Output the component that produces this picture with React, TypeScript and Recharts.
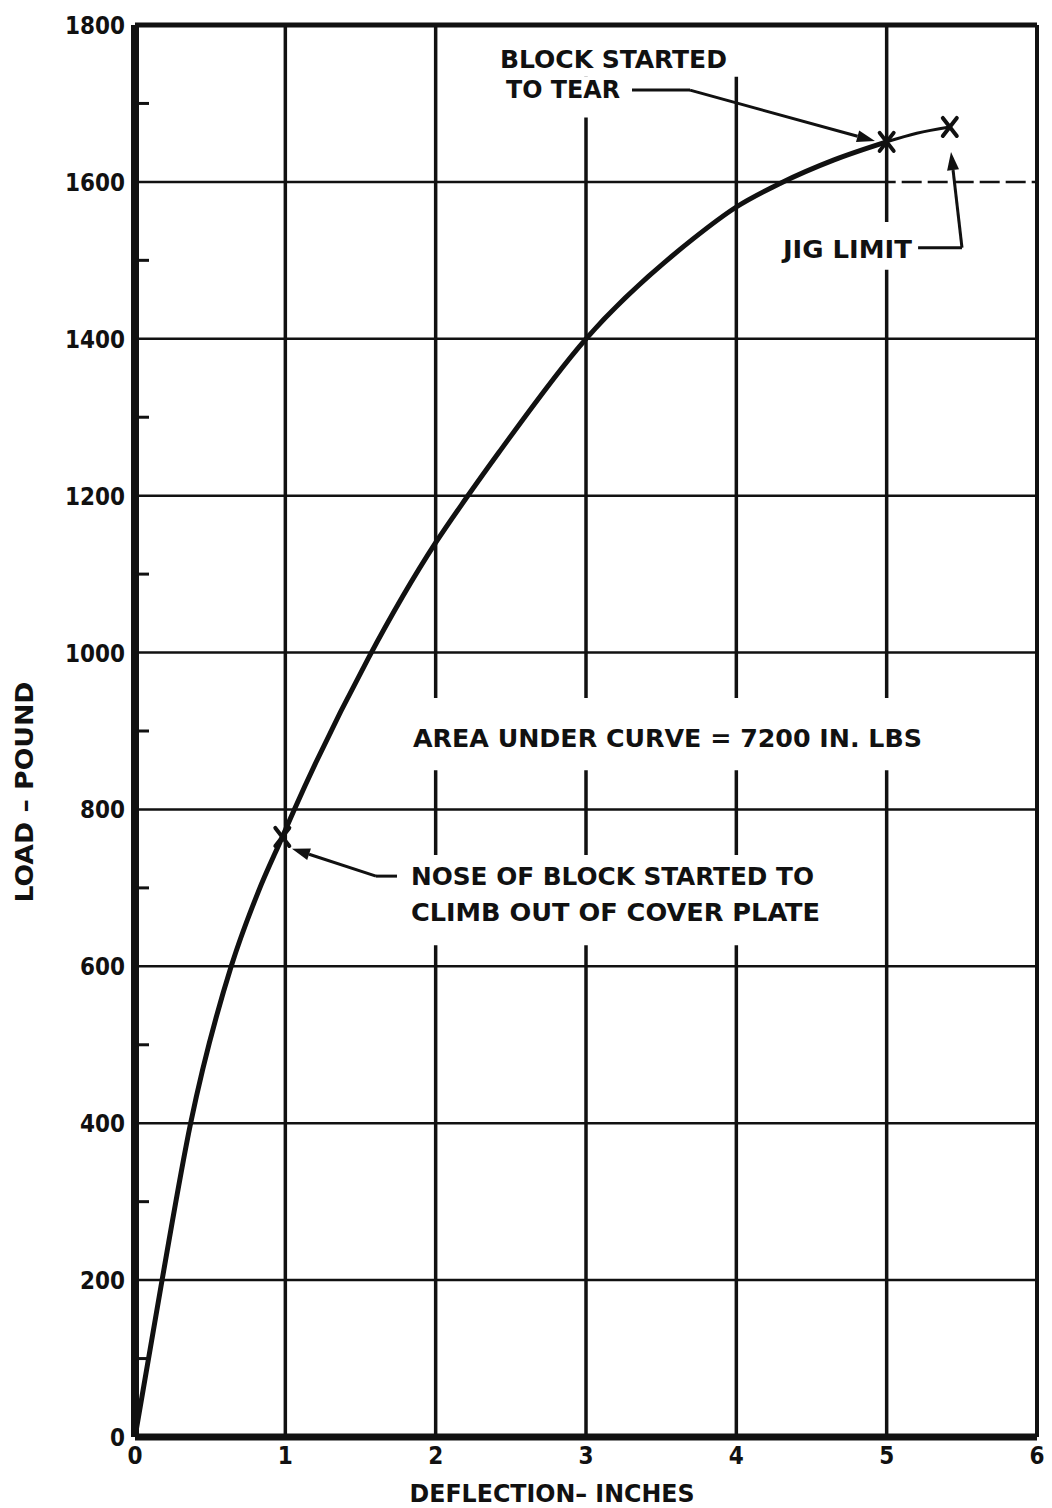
import {
  ComposedChart,
  Line,
  Scatter,
  XAxis,
  YAxis,
  CartesianGrid,
  ReferenceLine,
  ReferenceArea,
  ReferenceDot,
} from "recharts";

// load-deflection curve (inches, pounds)
const loadCurve = [
  { x: 0, y: 0 },
  { x: 0.18, y: 200 },
  { x: 0.37, y: 400 },
  { x: 0.64, y: 600 },
  { x: 0.82, y: 695 },
  { x: 0.98, y: 765 },
  { x: 1.06, y: 800 },
  { x: 1.55, y: 992 },
  { x: 2.0, y: 1140 },
  { x: 2.2, y: 1196 },
  { x: 2.42, y: 1255 },
  { x: 3.0, y: 1400 },
  { x: 3.71, y: 1527 },
  { x: 4.0, y: 1568 },
  { x: 4.29, y: 1598 },
  { x: 4.65, y: 1628 },
  { x: 5.0, y: 1651 },
];

// short piece between tearing and the jig limit (drawn thinner)
const jigTail = [
  { x: 5.0, y: 1651 },
  { x: 5.2, y: 1662 },
  { x: 5.42, y: 1670 },
];

// the three "X" marks: nose climbs out, block tears, jig limit
const events = [
  { x: 0.98, y: 765 },
  { x: 5.0, y: 1651 },
  { x: 5.42, y: 1670 },
];

const xTicks = [0, 1, 2, 3, 4, 5, 6];
const yTicks = [0, 100, 200, 300, 400, 500, 600, 700, 800, 900, 1000, 1100, 1200, 1300, 1400, 1500, 1600, 1700, 1800];
const gridX = [1, 2, 3, 4, 5];
const gridY = [200, 400, 600, 800, 1000, 1200, 1400, 1600];

// notes: start x, baseline y (data units), printed width in px
const notes = [
  { text: "BLOCK STARTED", x: 2.428, y: 1745, w: 227, size: 24 },
  { text: "TO TEAR", x: 2.468, y: 1707, w: 114, size: 24 },
  { text: "JIG LIMIT", x: 4.31, y: 1503, w: 129, size: 24 },
  { text: "AREA UNDER CURVE = 7200 IN. LBS", x: 1.849, y: 880, w: 509, size: 24 },
  { text: "NOSE  OF BLOCK STARTED TO", x: 1.836, y: 704, w: 403, size: 25 },
  { text: "CLIMB OUT OF COVER PLATE", x: 1.836, y: 658, w: 409, size: 25 },
];

// white patches where the draftsman broke the grid for lettering
const blanks = [
  { x1: 1.796, x2: 5.3, y1: 850, y2: 942 },
  { x1: 1.763, x2: 4.62, y1: 627, y2: 742 },
  { x1: 4.257, x2: 5.195, y1: 1488, y2: 1549 },
  { x1: 2.375, x2: 4.04, y1: 1734, y2: 1800 },
  { x1: 2.375, x2: 3.09, y1: 1682, y2: 1734 },
];

// leader lines, [from, to, arrowhead]
const leaders: [number[], number[], boolean][] = [
  [[3.306, 1717], [3.692, 1717], false],
  [[3.692, 1717], [4.922, 1652], true],
  [[5.209, 1516], [5.501, 1516], false],
  [[5.501, 1516], [5.428, 1638], true],
  [[1.743, 715], [1.603, 715], false],
  [[1.603, 715], [1.044, 750], true],
];

const INK = "#111";
const FONT = "'DejaVu Sans Condensed', 'DejaVu Sans', sans-serif";

function LoadTick({ x, y, payload }: any) {
  const v = payload.value;
  if (v % 200 !== 0) {
    return <line x1={x + 10} x2={x + 24} y1={y} y2={y} stroke={INK} strokeWidth={3} />;
  }
  const s = String(v);
  return (
    <text
      x={x}
      y={y + 9}
      textAnchor="end"
      fontFamily={FONT}
      fontWeight="bold"
      fontSize={25}
      fill={INK}
      textLength={s.length * 15}
      lengthAdjust="spacingAndGlyphs"
    >
      {s}
    </text>
  );
}

function DeflTick({ x, y, payload }: any) {
  return (
    <text x={x} y={y + 27} textAnchor="middle" fontFamily={FONT} fontWeight="bold" fontSize={24} fill={INK}>
      {payload.value}
    </text>
  );
}

function Cross({ cx, cy }: any) {
  const s = 7;
  return (
    <g stroke={INK} strokeWidth={4} strokeLinecap="round">
      <line x1={cx - s} y1={cy - s - 2} x2={cx + s} y2={cy + s + 2} />
      <line x1={cx + s} y1={cy - s - 2} x2={cx - s} y2={cy + s + 2} />
    </g>
  );
}

function Leader({ x1, y1, x2, y2, arrow }: any) {
  const dx = x2 - x1;
  const dy = y2 - y1;
  const len = Math.hypot(dx, dy) || 1;
  const ux = dx / len;
  const uy = dy / len;
  const hl = 18;
  const hw = 6;
  const bx = x2 - ux * hl;
  const by = y2 - uy * hl;
  return (
    <g>
      <line x1={x1} y1={y1} x2={arrow ? bx : x2} y2={arrow ? by : y2} stroke={INK} strokeWidth={3} />
      {arrow && (
        <polygon
          points={`${x2},${y2} ${bx - uy * hw},${by + ux * hw} ${bx + uy * hw},${by - ux * hw}`}
          fill={INK}
        />
      )}
    </g>
  );
}

export default function App() {
  return (
    <div style={{ background: "#fff", width: 1052, height: 1508 }}>
      <style>{"body{margin:0;background:#fff}"}</style>
      <ComposedChart width={1052} height={1508} margin={{ top: 25, right: 15, bottom: 0, left: 0 }}>
        <CartesianGrid horizontal vertical={false} horizontalValues={gridY} stroke={INK} strokeWidth={2.5} />
        <CartesianGrid horizontal={false} vertical verticalValues={gridX} stroke={INK} strokeWidth={3.5} />
        {blanks.map((b, i) => (
          <ReferenceArea key={"b" + i} x1={b.x1} x2={b.x2} y1={b.y1} y2={b.y2} fill="#fff" fillOpacity={1} stroke="none" />
        ))}
        {/* the 1600 rule is broken up past the 5-inch line */}
        <ReferenceLine
          segment={[
            { x: 5.06, y: 1600 },
            { x: 5.98, y: 1600 },
          ]}
          stroke="#fff"
          strokeWidth={4}
          strokeDasharray="6 20"
        />
        <XAxis
          dataKey="x"
          type="number"
          domain={[0, 6]}
          ticks={xTicks}
          interval={0}
          height={71}
          tickSize={0}
          tickMargin={0}
          tick={<DeflTick />}
          axisLine={{ stroke: INK, strokeWidth: 7 }}
          label={{
            content: ({ viewBox }: any) => (
              <text
                x={viewBox.x + viewBox.width / 2 - 34}
                y={viewBox.y + 65}
                textAnchor="middle"
                fontFamily={FONT}
                fontWeight="bold"
                fontSize={25}
                fill={INK}
                textLength={285}
                lengthAdjust="spacingAndGlyphs"
              >
                DEFLECTION– INCHES
              </text>
            ),
          }}
        />
        <YAxis
          dataKey="y"
          type="number"
          domain={[0, 1800]}
          ticks={yTicks}
          interval={0}
          width={135}
          tickSize={0}
          tickMargin={10}
          tick={<LoadTick />}
          axisLine={{ stroke: INK, strokeWidth: 8 }}
          label={{
            content: ({ viewBox }: any) => {
              const cx = viewBox.x + 25;
              const cy = viewBox.y + viewBox.height / 2 + 61;
              return (
                <text
                  x={cx}
                  y={cy}
                  transform={`rotate(-90 ${cx} ${cy})`}
                  textAnchor="middle"
                  dominantBaseline="central"
                  fontFamily={FONT}
                  fontWeight="bold"
                  fontSize={24}
                  fill={INK}
                  textLength={221}
                  lengthAdjust="spacingAndGlyphs"
                >
                  LOAD – POUND
                </text>
              );
            },
          }}
        />
        <ReferenceLine y={1800} stroke={INK} strokeWidth={5} />
        <ReferenceLine x={6} stroke={INK} strokeWidth={4} />
        {leaders.map(([a, b, head], i) => (
          <ReferenceLine
            key={"l" + i}
            segment={[
              { x: a[0], y: a[1] },
              { x: b[0], y: b[1] },
            ]}
            shape={(p: any) => <Leader {...p} arrow={head} />}
          />
        ))}
        {notes.map((n, i) => (
          <ReferenceDot
            key={"n" + i}
            x={n.x}
            y={n.y}
            shape={(p: any) => (
              <text
                x={p.cx}
                y={p.cy}
                fontFamily={FONT}
                fontWeight="bold"
                fontSize={n.size}
                fill={INK}
                textLength={n.w}
                lengthAdjust="spacingAndGlyphs"
              >
                {n.text}
              </text>
            )}
          />
        ))}
        <Line
          data={loadCurve}
          dataKey="y"
          type="monotone"
          stroke={INK}
          strokeWidth={5}
          dot={false}
          activeDot={false}
          isAnimationActive={false}
        />
        <Line
          data={jigTail}
          dataKey="y"
          type="monotone"
          stroke={INK}
          strokeWidth={3}
          dot={false}
          activeDot={false}
          isAnimationActive={false}
        />
        <Scatter data={events} dataKey="y" shape={<Cross />} isAnimationActive={false} />
      </ComposedChart>
    </div>
  );
}
